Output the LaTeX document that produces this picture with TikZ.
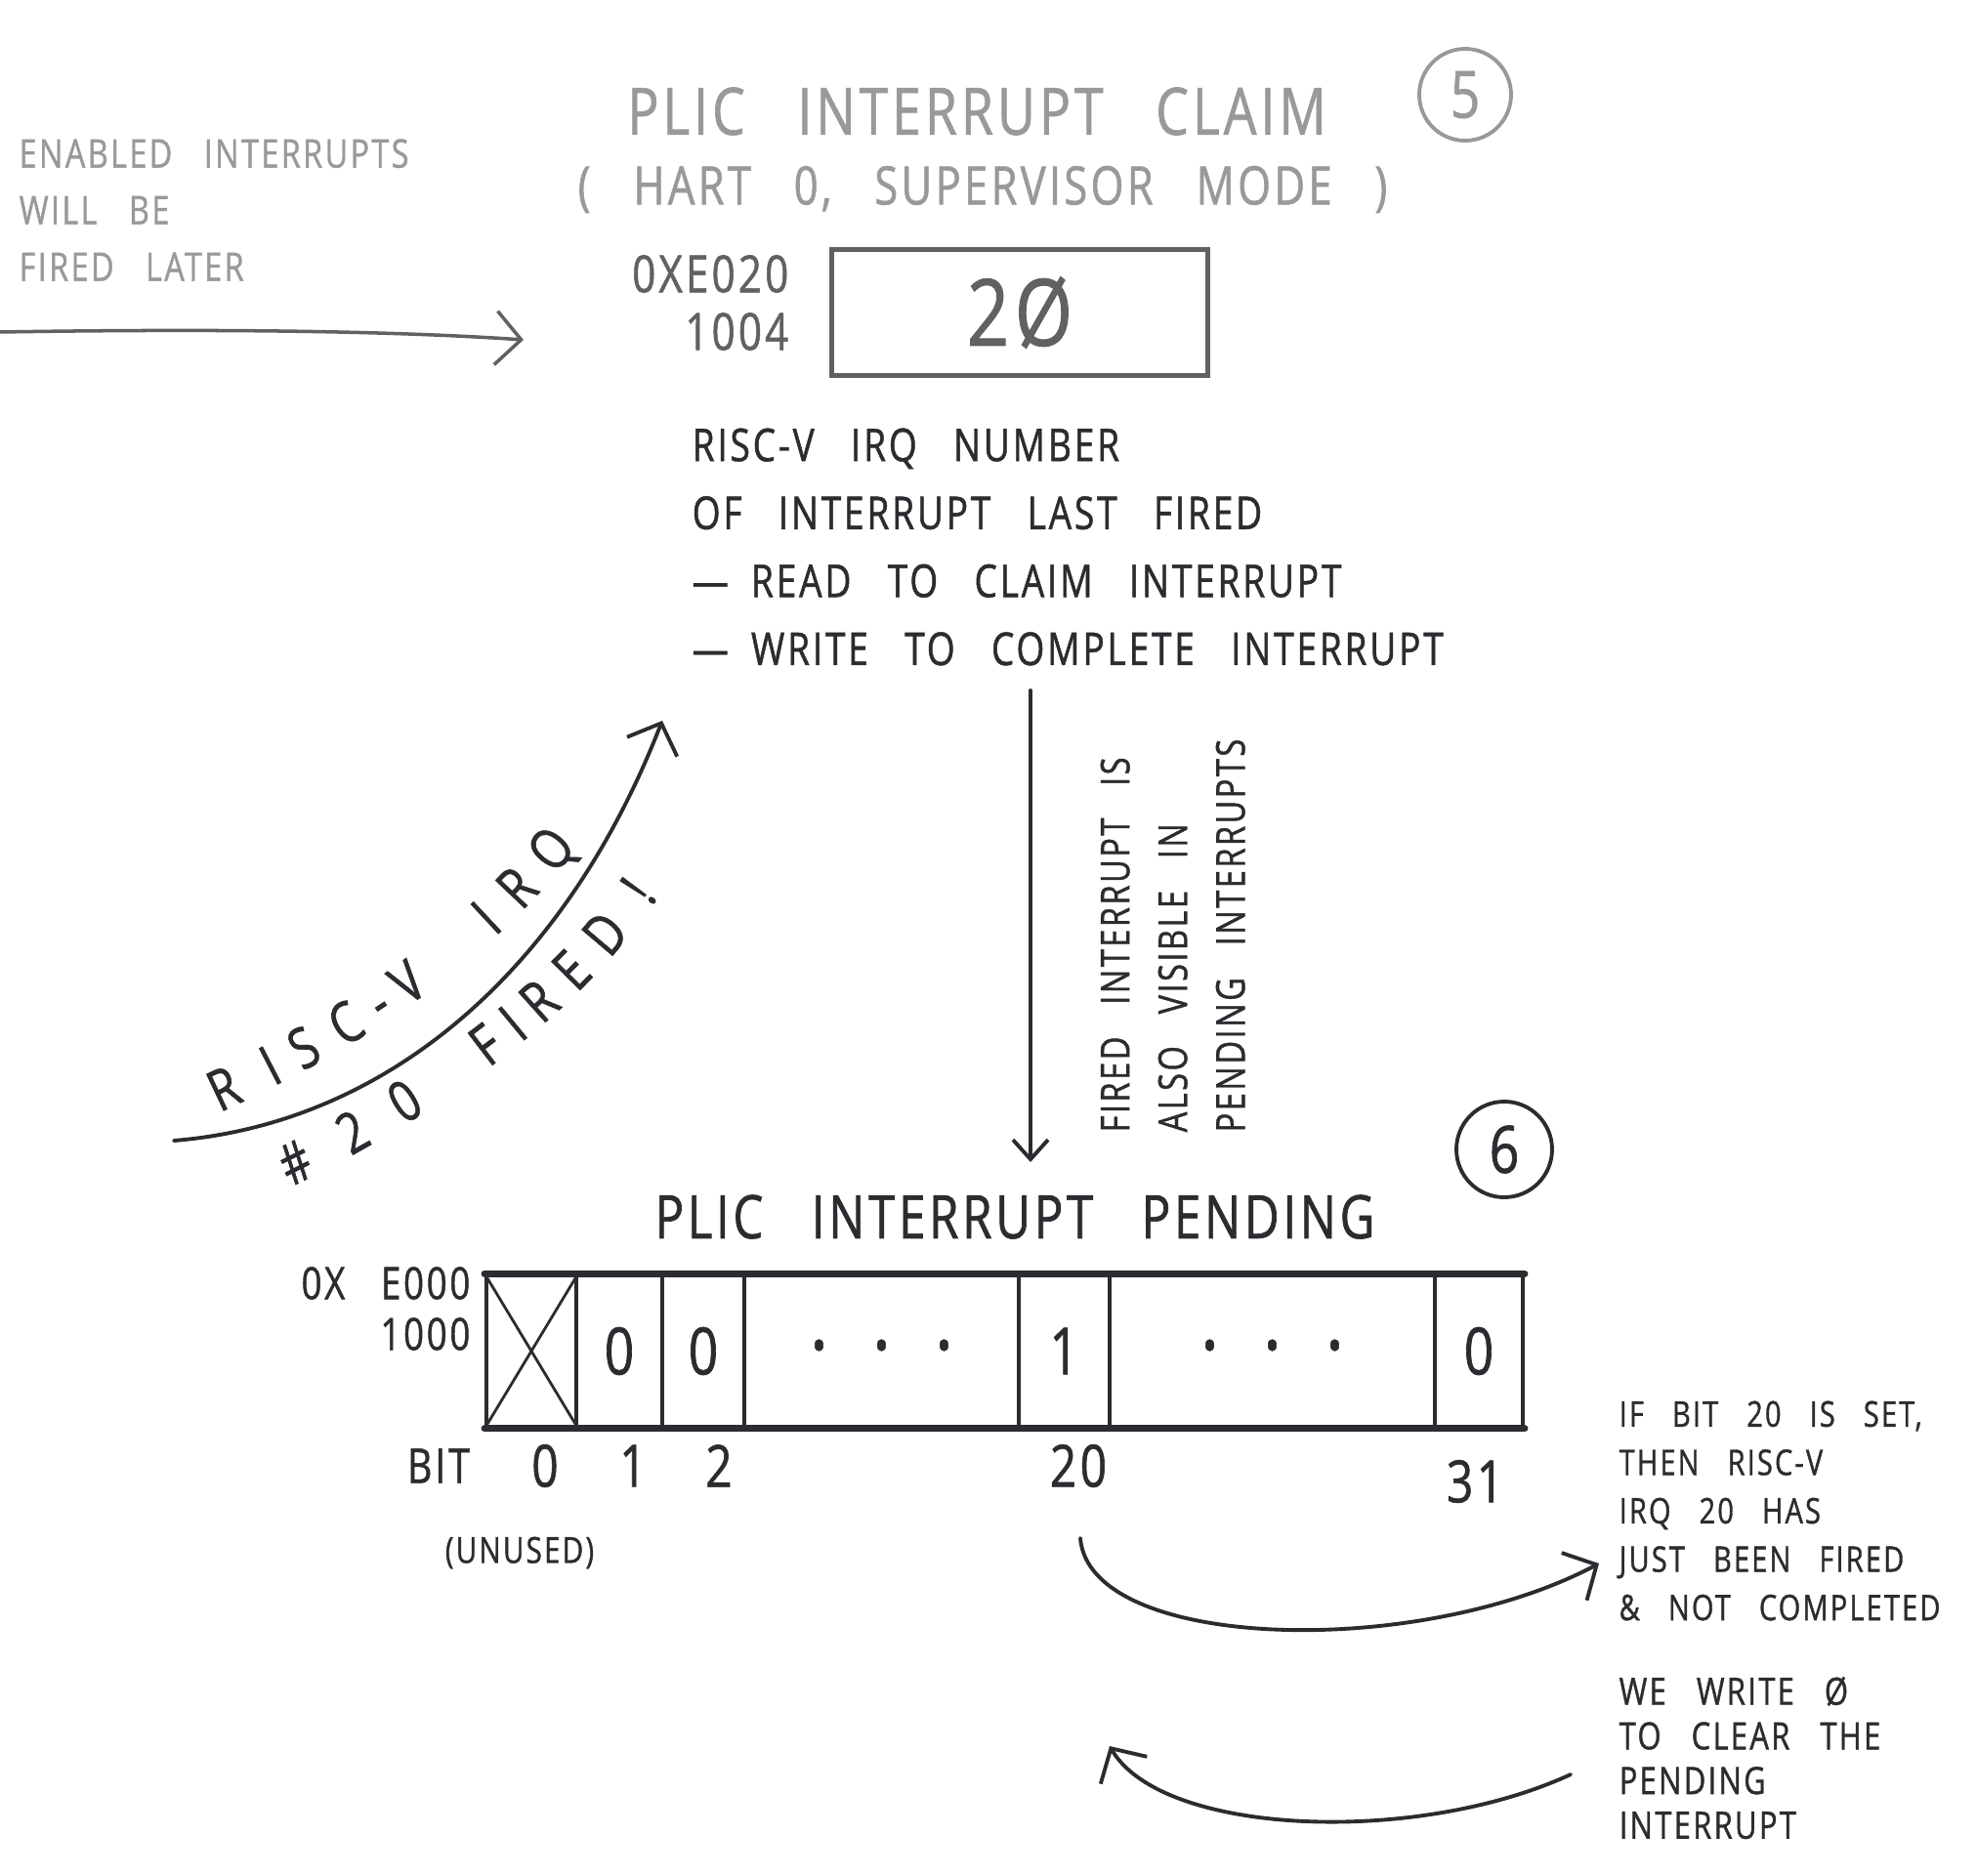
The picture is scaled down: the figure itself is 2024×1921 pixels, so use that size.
\documentclass[tikz,border=0pt]{standalone}
\usepackage{fontspec}
\setmainfont{Open Sans}
\newfontfamily\hand[FakeStretch=0.8, FakeBold=1, LetterSpace=6, WordSpace=3]{Open Sans}
\newcommand\handsize[2]{\hand\fontsize{#1}{#2}\selectfont}
\newcommand\dotrow{{\fontsize{14}{14}\selectfont •\hspace{14pt}•\hspace{14pt}•}}
\usetikzlibrary{positioning, arrows.meta}
\definecolor{ink}{HTML}{2B2B30}
\colorlet{pencil}{black!40}
\colorlet{lead}{black!62}

\begin{document}
\begin{tikzpicture}[x=0.1mm, y=-0.1mm]
\tikzset{
    every node/.style={align=center},
    pale/.style={text=pencil},
    dark/.style={text=lead},
    inked/.style={text=ink},
    barb/.style={-{Straight Barb[length=2.6mm, width=5.5mm]}},
    inkline/.style={draw=ink, line width=1.1pt, line cap=round},
    curveletter/.style={sloped, anchor=base, inner sep=0pt, text=ink, font=\handsize{16.5}{18}},
    cell/.style={draw=ink, line width=1.1pt, minimum height=15.5mm, inner sep=0pt,
        text=ink, font=\handsize{19}{20}},
    stepmark/.style={circle, line width=1.1pt, minimum size=9.4mm, inner sep=0pt,
        font=\handsize{19}{20}}
}
\useasboundingbox (0,0) rectangle (2024,1921);

% claim register
\node[pale, font=\handsize{19}{22}] (claimtitle) at (1000,114) {PLIC INTERRUPT CLAIM};
\node[pale, font=\handsize{15.5}{20}] (claimsub) at (1006,194) {( HART 0, SUPERVISOR MODE )};
\node[stepmark, draw=pencil, text=pencil] (step5) at (1500,97) {5};

\node[pale, align=left, anchor=west, inner sep=0pt, font=\handsize{11.5}{16.5}] (enabled) at (19,215)
    {ENABLED INTERRUPTS\\WILL BE\\FIRED LATER};
\coordinate (enabledtail) at (0,340);
\coordinate (enabledhead) at (536,348);
\draw[barb, draw=lead, line width=1pt, line cap=round] (enabledtail) .. controls (250,336) and (420,340) .. (enabledhead);

\node[dark, align=right, anchor=east, inner sep=0pt, font=\handsize{15}{16.8}] (claimaddr) at (808,310) {0XE020\\1004};
\node[draw=lead, line width=1.3pt, minimum width=38.5mm, minimum height=12.9mm,
    text=lead, font=\handsize{27}{30}] (claimreg) at (1044,320) {2Ø};

\node[inked, align=left, anchor=west, inner sep=0pt, font=\handsize{13.2}{19.8}] (claimdesc) at (708,560)
    {RISC-V IRQ NUMBER\\OF INTERRUPT LAST FIRED\\—\hspace{0.5em}READ TO CLAIM INTERRUPT\\—\hspace{0.5em}WRITE TO COMPLETE INTERRUPT};

% fired irq
\coordinate (firetail) at (178,1168);
\coordinate (firehead) at (678,738);
\draw[inkline, barb] (firetail) .. controls (400,1150) and (580,990) .. (firehead);
\foreach \ch/\t [count=\k] in {R/0.02, I/0.17, S/0.27, C/0.39, -/0.48, V/0.56, I/0.78, R/0.87, Q/0.975}
    \path (232,1136) .. controls (330,1090) and (480,1010) .. (588,872)
        node[curveletter, pos=\t] (fireup\k) {\ch};
\foreach \ch/\t [count=\k] in {\#/0.02, 2/0.19, 0/0.33, F/0.54, I/0.61, R/0.68, E/0.77, D/0.87, !/0.98}
    \path (305,1212) .. controls (410,1160) and (580,1060) .. (676,915)
        node[curveletter, pos=\t] (firedn\k) {\ch};

% claim -> pending
\coordinate (pendtop) at (1055,707);
\coordinate (pendbot) at (1055,1190);
\draw[inkline, -{Straight Barb[length=2mm, width=3.6mm]}] (pendtop) -- (pendbot);
\node[inked, rotate=90, align=left, anchor=north west, inner sep=0pt, font=\handsize{11.6}{16.8}] (visnote)
    at (1126,1160) {FIRED INTERRUPT IS\\ALSO VISIBLE IN\\PENDING INTERRUPTS};

% pending register
\node[inked, font=\handsize{17.5}{20}] (pendtitle) at (1039,1246) {PLIC INTERRUPT PENDING};
\node[stepmark, draw=ink, text=ink, minimum size=9.8mm] (step6) at (1540,1177) {6};

\foreach \cell/\cx/\cw/\bitval in {c0/544/9.2/{}, c1/634/8.8/0, c2/720/8.4/0, cmid/902.5/28.1/{\dotrow},
        c20/1089.5/9.3/1, crest/1302.5/33.3/{\dotrow}, c31/1514/9.0/0}
    \node[cell, minimum width=\cw mm] (\cell) at (\cx,1383.5) {\bitval};
\draw[inkline, line width=2pt] (c0.north west) -- (c31.north east);
\draw[inkline, line width=2pt] (c0.south west) -- (c31.south east);
\draw[inkline, line width=0.8pt] (c0.north west) -- (c0.south east) (c0.north east) -- (c0.south west);

\node[inked, align=right, anchor=east, inner sep=0pt, font=\handsize{13}{14.8}] (pendaddr) at (482,1340) {0X E000\\1000};

\node[inked, font=\handsize{14}{16}] (bitword) at (449,1501) {BIT};
\foreach \b/\bx in {0/558, 1/648, 2/736, 20/1104}
    \node[inked, font=\handsize{17}{18}] (bit\b) at (\bx,1501) {\b};
\node[inked, font=\handsize{17}{18}] (bit31) at (1510,1517) {31};
\node[inked, font=\handsize{10.5}{12}] (unused) at (532,1590) {(UNUSED)};

% notes on the right
\node[inked, align=left, anchor=west, inner sep=0pt, font=\handsize{10.3}{14.1}] (setnote) at (1657,1547)
    {IF BIT 20 IS SET,\\THEN RISC-V\\IRQ 20 HAS\\JUST BEEN FIRED\\\& NOT COMPLETED};
\node[inked, align=left, anchor=west, inner sep=0pt, font=\handsize{11}{13}] (clearnote) at (1657,1800)
    {WE WRITE Ø\\TO CLEAR THE\\PENDING\\INTERRUPT};

\coordinate (settail) at (1106,1575);
\coordinate (sethead) at (1637,1601);
\draw[inkline, barb] (settail) .. controls (1115,1690) and (1450,1700) .. (sethead);
\coordinate (cleartail) at (1608,1817);
\coordinate (clearhead) at (1136,1788);
\draw[inkline, barb] (cleartail) .. controls (1450,1890) and (1190,1880) .. (clearhead);
\end{tikzpicture}
\end{document}
